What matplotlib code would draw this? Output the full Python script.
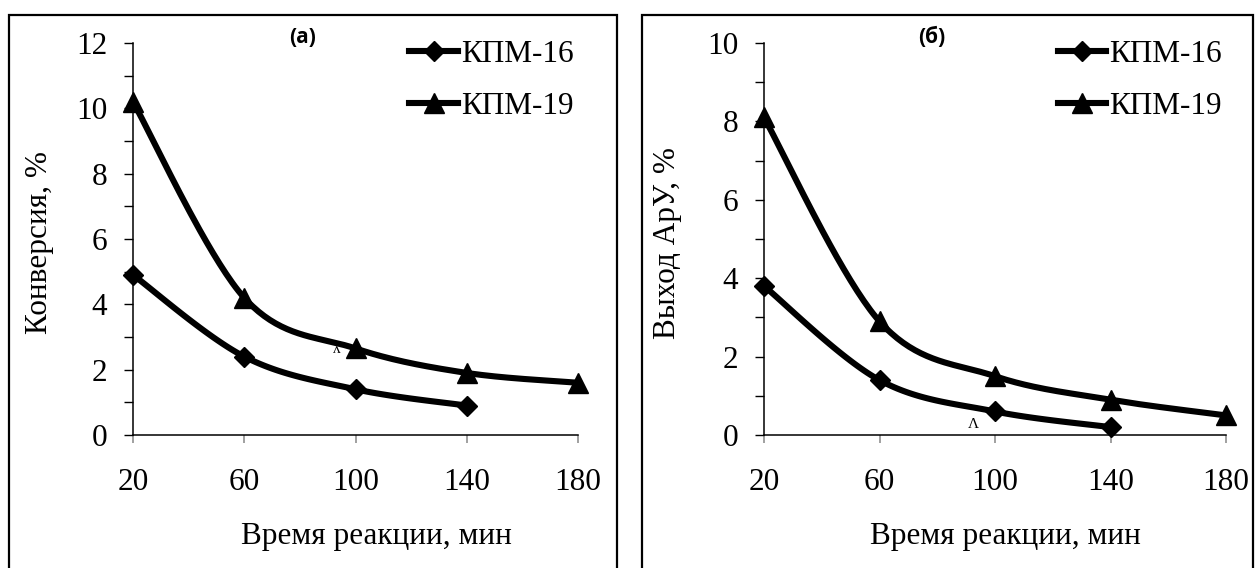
import numpy as np
import matplotlib.pyplot as plt
from matplotlib.lines import Line2D
from matplotlib.patches import Rectangle
from matplotlib.ticker import MultipleLocator

plt.rcParams['font.family'] = ['Liberation Serif', 'DejaVu Serif']

# data
time_min = [20, 60, 100, 140, 180]
labels = ['КПМ-16', 'КПМ-19']

conv_16 = [4.9, 2.4, 1.4, 0.9]
conv_19 = [10.2, 4.2, 2.65, 1.9, 1.6]

yield_16 = [3.8, 1.4, 0.6, 0.2]
yield_19 = [8.1, 2.9, 1.5, 0.9, 0.5]


def smooth(x, y, n=40):
    # Excel-like smoothed line (cubic Bezier, Catmull-Rom controls)
    P = np.column_stack([x, y]).astype(float)
    t = np.linspace(0, 1, n)[:, None]
    out = []
    for i in range(len(P) - 1):
        pm = P[max(i - 1, 0)]
        p0 = P[i]
        p1 = P[i + 1]
        p2 = P[min(i + 2, len(P) - 1)]
        c1 = p0 + (p1 - pm) / 6
        c2 = p1 - (p2 - p0) / 6
        b = ((1 - t) ** 3) * p0 + 3 * ((1 - t) ** 2) * t * c1 \
            + 3 * (1 - t) * t ** 2 * c2 + t ** 3 * p1
        out.append(b)
    B = np.vstack(out)
    return B[:, 0], B[:, 1]


fig = plt.figure(figsize=(12.55, 5.68), dpi=100)
W, H = 1255, 568
FS = 22.5

# panel frames
for x0, x1 in [(9, 617), (642, 1253)]:
    fig.patches.append(Rectangle((x0 / W, -0.05), (x1 - x0) / W, 1.05 - 15 / H,
                                 transform=fig.transFigure, fill=False,
                                 edgecolor='black', linewidth=1.6))

ax1 = fig.add_axes([133 / W, 1 - 435 / H, (578 - 133) / W, (435 - 43) / H])
ax2 = fig.add_axes([764 / W, 1 - 435 / H, (1226 - 764) / W, (435 - 43) / H])

panels = [
    (ax1, conv_16, conv_19, 12, 'Конверсия, %', '(a)', 0.548, 93.3, 2.62, 'ʌ', 0.38),
    (ax2, yield_16, yield_19, 10, 'Выход АрУ, %', '(б)', 0.522, 92.5, 0.28, 'Λ', 0.363),
]

for ax, s16, s19, ymax, ylab, tag, xl, ax_x, ax_y, art, tx in panels:
    for vals, mk, ms in [(s16, 'D', 10), (s19, '^', 15)]:
        xs = time_min[:len(vals)]
        sx, sy = smooth(xs, vals)
        ax.plot(sx, sy, color='black', lw=4.4, solid_capstyle='round',
                clip_on=False, zorder=3)
        ax.plot(xs, vals, linestyle='none', marker=mk, ms=ms, color='black',
                clip_on=False, zorder=4)

    ax.set_xlim(20, 180)
    ax.set_ylim(0, ymax)
    ax.set_xticks(time_min)
    ax.yaxis.set_major_locator(MultipleLocator(2))
    ax.yaxis.set_minor_locator(MultipleLocator(1))
    ax.tick_params(axis='y', which='both', direction='out', length=6.5,
                   width=1, colors='black', labelsize=FS, pad=12)
    ax.tick_params(axis='x', which='major', direction='out', length=6,
                   width=1.2, color='#909090', labelcolor='black',
                   labelsize=FS, pad=18)
    for s in ['top', 'right']:
        ax.spines[s].set_visible(False)
    for s in ['left', 'bottom']:
        ax.spines[s].set_linewidth(1.1)
    ax.set_ylabel(ylab, fontsize=FS, va='center')
    ax.yaxis.set_label_coords(-0.209, 0.49)
    ax.set_xlabel('Время реакции, мин', fontsize=FS)
    ax.xaxis.set_label_coords(xl, -0.258)
    ax.xaxis.label.set_va('center')
    ax.text(tx, 1.013, tag, transform=ax.transAxes,
            ha='center', va='center', fontsize=15, fontweight='bold',
            family=['Open Sans', 'DejaVu Sans'])
    ax.text(ax_x, ax_y, art, fontsize=11, ha='center', va='center')

    handles = [Line2D([0], [0], color='black', lw=4.4, marker='D', ms=10),
               Line2D([0], [0], color='black', lw=4.4, marker='^', ms=15)]
    ax.legend(handles, labels, loc='upper right', bbox_to_anchor=(1.018, 1.04),
              frameon=False, fontsize=FS, handlelength=1.55,
              handletextpad=0.1, labelspacing=0.75, borderaxespad=0,
              numpoints=1)

fig.savefig('out.png', dpi=100)
